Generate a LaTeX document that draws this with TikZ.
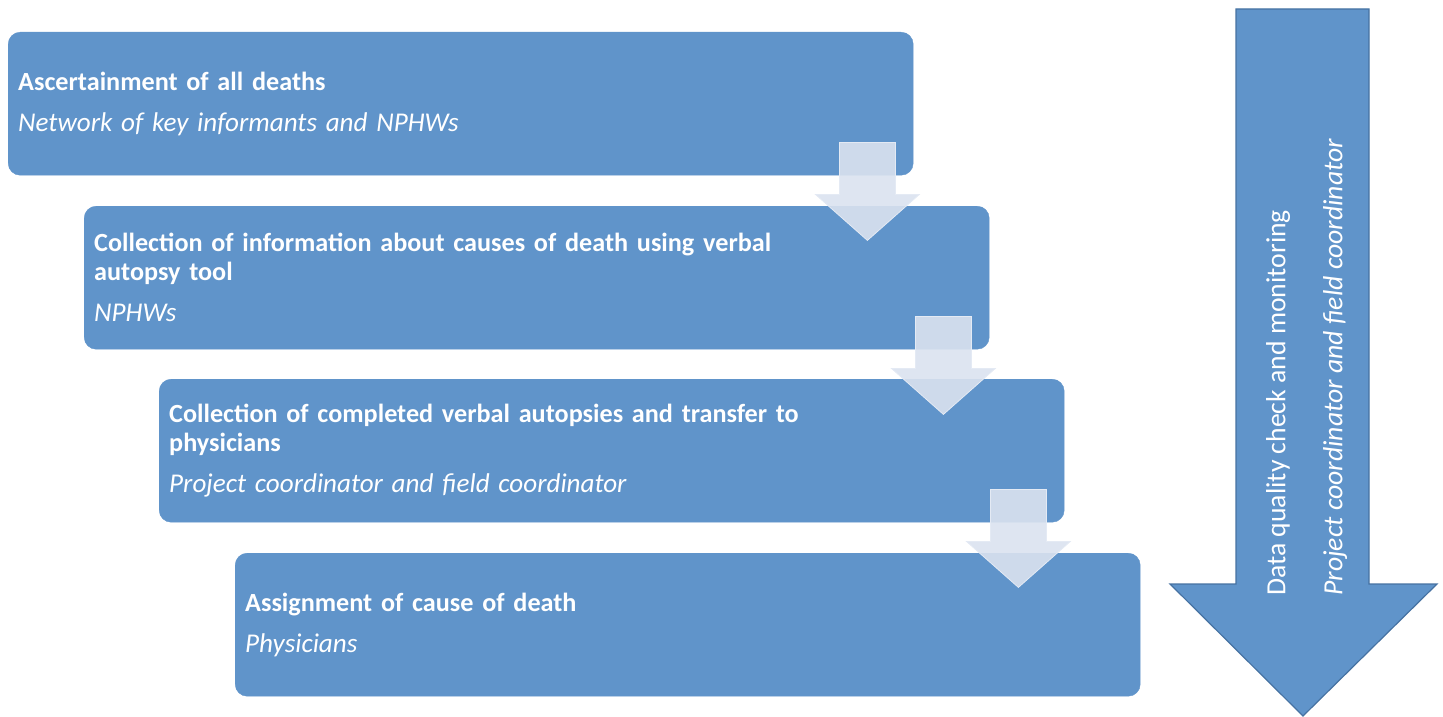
\documentclass[tikz,border=0pt]{standalone}
\usepackage{fontspec}
\setmainfont{Carlito}
\usetikzlibrary{calc}
\definecolor{boxblue}{RGB}{96,148,202}
\definecolor{edgeblue}{RGB}{70,114,162}
\definecolor{chevcol}{RGB}{218,226,239}
\definecolor{chevedge}{RGB}{228,234,244}
\tikzset{
  stage/.style={rectangle, rounded corners=12pt, fill=boxblue, draw=boxblue,
    minimum width=905pt, minimum height=143pt, text width=885pt,
    inner xsep=10pt, align=left, anchor=north west, text=white,
    font=\fontsize{26.2}{29}\selectfont},
  chevfill/.style={fill=chevcol, fill opacity=0.9, draw=chevedge, line width=0.8pt},
  chev/.pic={\path[chevfill] (-28,0) -- (28,0) -- (28,52) -- (52,52) -- (0,98)
      -- (-52,52) -- (-28,52) -- cycle;},
}
\newcommand\sub[1]{\\[12pt]{\fontsize{27.1}{29}\selectfont\itshape #1}}
\begin{document}
\begin{tikzpicture}[x=1pt,y=-1pt]
\useasboundingbox (0,0) rectangle (1443,717);

% monitoring arrow on the right
\path[fill=boxblue, draw=edgeblue, line width=1.2pt]
  (1236,9) -- (1369,9) -- (1369,584) -- (1437,584) -- (1303,716)
  -- (1170,584) -- (1236,584) -- cycle;
\node[rotate=90, anchor=north west, align=left, inner sep=0pt, text=white,
      font=\fontsize{27.7}{29}\selectfont] (mon) at (1266,596)
  {Data quality check and monitoring\\[28pt]\textit{Project coordinator and field coordinator}};

% process stages
\node[stage] (b1) at (8,32) {\textbf{Ascertainment of all deaths}\sub{Network of key informants and NPHWs}};
\node[stage] (b2) at (84,206) {\textbf{Collection of information about causes of death using verbal\\autopsy tool}\sub{NPHWs}};
\node[stage] (b3) at (159,379) {\textbf{Collection of completed verbal autopsies and transfer to\\physicians}\sub{Project coordinator and field coordinator}};
\node[stage] (b4) at (235,553) {\textbf{Assignment of cause of death}\sub{Physicians}};

% step arrows between stages
\pic at ($(b1.south east)+(-46,-33)$) {chev};
\pic at ($(b2.south east)+(-46,-33)$) {chev};
\pic at ($(b3.south east)+(-46,-33)$) {chev};
\end{tikzpicture}
\end{document}
